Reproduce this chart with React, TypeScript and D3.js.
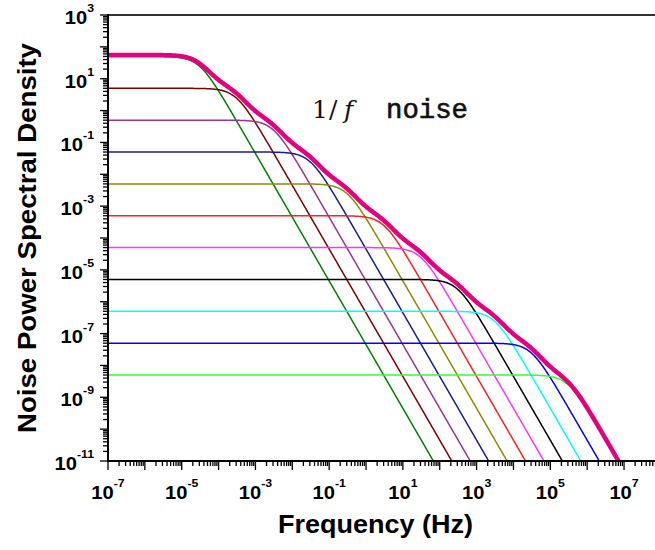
import React from "react";
import * as d3 from "d3";

// Lorentzian components: plateau level and corner frequency (Hz)
const plateauLevels = [50, 5, 0.5, 0.05, 5e-3, 5e-4, 5e-5, 5e-6, 5e-7, 5e-8, 5e-9];
const cornerFreqs = [3e-5, 3e-4, 3e-3, 3e-2, 0.3, 3, 30, 300, 3e3, 3e4, 3e5];
const curveColors = [
  "#008000", "#800000", "#993399", "#1c1c8c", "#8c8c00", "#ff2020",
  "#ff33ff", "#000000", "#00ffff", "#0000ff", "#33ff33",
];
const envelopeColor = "#e3007e";

const xTickExps = [-7, -5, -3, -1, 1, 3, 5, 7];
const yTickExps = [3, 1, -1, -3, -5, -7, -9, -11];

const width = 655;
const height = 550;
const left = 108;
const right = 655;
const top = 15;
const bottom = 461;

const lorentz = (f: number, a: number, fc: number) => a / (1 + (f / fc) * (f / fc));

export default function App() {
  const x = d3.scaleLog().domain([1e-7, Math.pow(10, 7.84)]).range([left, right]);
  const y = d3.scaleLog().domain([1e-11, 1e3]).range([bottom, top]);

  // frequency grid for sampling the model curves
  const freqs = d3.range(0, 700).map((i) => Math.pow(10, -7 + (i / 699) * 14.84));

  const line = d3
    .line<[number, number]>()
    .x((d) => x(d[0]))
    .y((d) => y(Math.max(d[1], 1e-13)));

  const curves = plateauLevels.map((a, k) =>
    freqs.map((f) => [f, lorentz(f, a, cornerFreqs[k])] as [number, number])
  );
  const envelope = freqs.map(
    (f, i) => [f, d3.sum(curves, (c) => c[i][1])] as [number, number]
  );

  const xMinor = x.ticks(20);
  const yMinor = y.ticks(20);
  const isMajor = (v: number) => Math.abs(Math.log10(v) - Math.round(Math.log10(v))) < 1e-6;

  const sx = 1.12;

  return (
    <svg
      width={width}
      height={height}
      style={{ position: "absolute", left: 0, top: 0, background: "#fff" }}
      fontFamily="'Liberation Sans', Arial, sans-serif"
    >
      <defs>
        <clipPath id="plot">
          <rect x={left} y={top} width={right - left} height={bottom - top} />
        </clipPath>
      </defs>

      <g clipPath="url(#plot)" fill="none">
        {curves.map((c, k) => (
          <path key={k} d={line(c) || ""} stroke={curveColors[k]} strokeWidth={1.5} />
        ))}
        <path d={line(envelope) || ""} stroke={envelopeColor} strokeWidth={4.5} strokeLinejoin="round" />
      </g>

      {/* top frame line */}
      <line x1={left} x2={right} y1={top} y2={top} stroke="#333" strokeWidth={2} />

      {/* x axis */}
      <g>
        <line x1={left - 1} x2={right} y1={bottom} y2={bottom} stroke="#000" strokeWidth={2} />
        {xMinor.map((v, i) => (
          <line
            key={i}
            x1={x(v)}
            x2={x(v)}
            y1={bottom}
            y2={bottom + (isMajor(v) ? 9 : 5)}
            stroke="#000"
            strokeWidth={1.3}
          />
        ))}
        {xTickExps.map((e) => (
          <text
            key={e}
            transform={`translate(${x(Math.pow(10, e))},${bottom + 38}) scale(${sx},1)`}
            textAnchor="middle"
            fontSize={18}
            fontWeight="bold"
          >
            10
            <tspan dy={-12} fontSize={11}>
              {e}
            </tspan>
          </text>
        ))}
      </g>

      {/* y axis */}
      <g>
        <line x1={left} x2={left} y1={top - 1} y2={bottom + 1} stroke="#000" strokeWidth={2} />
        {yMinor.map((v, i) => (
          <line
            key={i}
            x1={left}
            x2={left - (isMajor(v) ? 8 : 5)}
            y1={y(v)}
            y2={y(v)}
            stroke="#000"
            strokeWidth={1.3}
          />
        ))}
        {yTickExps.map((e) => (
          <text
            key={e}
            transform={`translate(94,${y(Math.pow(10, e)) + 9}) scale(${sx},1)`}
            textAnchor="end"
            fontSize={18}
            fontWeight="bold"
          >
            10
            <tspan dy={-12} fontSize={11}>
              {e}
            </tspan>
          </text>
        ))}
      </g>

      {/* axis titles */}
      <text
        x={375.5}
        y={533}
        textAnchor="middle"
        fontSize={25}
        fontWeight="bold"
        textLength={195}
        lengthAdjust="spacingAndGlyphs"
      >
        Frequency (Hz)
      </text>
      <text
        transform="translate(36,238) rotate(-90)"
        textAnchor="middle"
        fontSize={26}
        fontWeight="bold"
        textLength={390}
        lengthAdjust="spacingAndGlyphs"
      >
        Noise Power Spectral Density
      </text>

      {/* annotation */}
      <text y={118} fontSize={25} fontFamily="'DejaVu Serif', serif" fill="#111">
        <tspan x={312}>1</tspan>
        <tspan x={329}>/</tspan>
        <tspan x={344} fontStyle="italic">f</tspan>
      </text>
      <text
        x={386}
        y={118}
        fontSize={27}
        fontFamily="'Liberation Mono', 'Courier New', monospace"
        textLength={82}
        lengthAdjust="spacingAndGlyphs"
        fill="#111"
        stroke="#111"
        strokeWidth={0.6}
      >
        noise
      </text>
    </svg>
  );
}
